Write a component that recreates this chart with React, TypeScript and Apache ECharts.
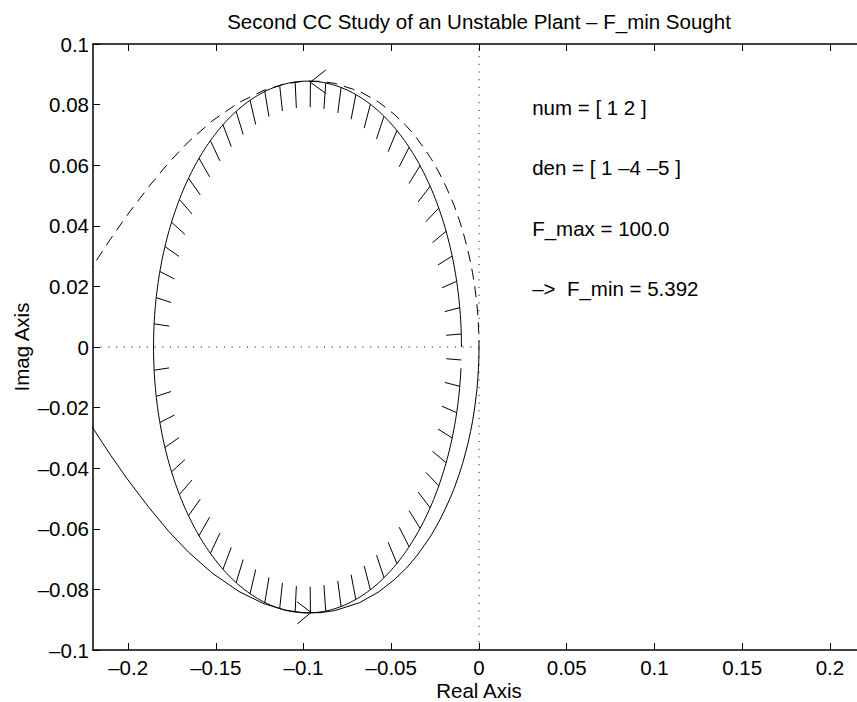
import React, { useEffect, useRef } from "react";
import * as echarts from "echarts";

const FONT = '"Liberation Sans", Arial, Helvetica, sans-serif';

// ---------- texts ----------
const chartTitle = "Second CC Study of an Unstable Plant – F_min Sought";
const xAxisName = "Real Axis";
const yAxisName = "Imag Axis";

// ---------- axes ----------
const xRange = [-0.22, 0.22];
const yRange = [-0.1, 0.1];
const xTickValues = [-0.2, -0.15, -0.1, -0.05, 0, 0.05, 0.1, 0.15, 0.2];
const xTickLabels = ["–0.2", "–0.15", "–0.1", "–0.05", "0", "0.05", "0.1", "0.15", "0.2"];
const yTickValues = [-0.1, -0.08, -0.06, -0.04, -0.02, 0, 0.02, 0.04, 0.06, 0.08, 0.1];
const yTickLabels = ["–0.1", "–0.08", "–0.06", "–0.04", "–0.02", "0", "0.02", "0.04", "0.06", "0.08", "0.1"];

// ---------- Nyquist curve, positive frequencies (solid) ----------
const nyquistPositive: [number, number][] = [
  [-0.2292, -0.0186], [-0.224, -0.0232], [-0.2191, -0.0276], [-0.2143, -0.0319],
  [-0.2097, -0.0359], [-0.2008, -0.0433], [-0.1882, -0.0529], [-0.1766, -0.061],
  [-0.1656, -0.0677], [-0.1521, -0.0746], [-0.1368, -0.0807], [-0.1231, -0.0846],
  [-0.1109, -0.0868], [-0.1001, -0.0877], [-0.0906, -0.0877], [-0.0822, -0.087],
  [-0.0681, -0.0844], [-0.0571, -0.0808], [-0.0483, -0.0768], [-0.0413, -0.0729],
  [-0.0357, -0.0691], [-0.0311, -0.0654], [-0.0272, -0.0621], [-0.0227, -0.0575],
  [-0.0192, -0.0534], [-0.0164, -0.0498], [-0.0141, -0.0466], [-0.0113, -0.042],
  [-0.0092, -0.0382], [-0.0065, -0.0323], [-0.0048, -0.0279], [-0.0037, -0.0246],
  [-0.0024, -0.0198], [-0.0012, -0.0142], [-0.0006, -0.01], [-0.0003, -0.0067],
  [-0.00015, -0.005], [-0.00007, -0.0033], [-0.00002, -0.002], [0, -0.001], [0, 0],
];

// ---------- Nyquist curve, negative frequencies (dashed) ----------
const nyquistNegative: [number, number][] = [
  [-0.2292, 0.0186], [-0.224, 0.0232], [-0.2191, 0.0276], [-0.2143, 0.0319],
  [-0.2097, 0.0359], [-0.2008, 0.0433], [-0.1882, 0.0529], [-0.1766, 0.061],
  [-0.1656, 0.0677], [-0.1521, 0.0746], [-0.1368, 0.0807], [-0.1231, 0.0846],
  [-0.1109, 0.0868], [-0.1001, 0.0877], [-0.0906, 0.0877], [-0.0822, 0.087],
  [-0.0681, 0.0844], [-0.0571, 0.0808], [-0.0483, 0.0768], [-0.0413, 0.0729],
  [-0.0357, 0.0691], [-0.0311, 0.0654], [-0.0272, 0.0621], [-0.0227, 0.0575],
  [-0.0192, 0.0534], [-0.0164, 0.0498], [-0.0141, 0.0466], [-0.0113, 0.042],
  [-0.0092, 0.0382], [-0.0065, 0.0323], [-0.0048, 0.0279], [-0.0037, 0.0246],
  [-0.0024, 0.0198], [-0.0012, 0.0142], [-0.0006, 0.01], [-0.0003, 0.0067],
  [-0.00015, 0.005], [-0.00007, 0.0033], [-0.00002, 0.002], [0, 0.001], [0, 0],
];

// ---------- circle-criterion disk: real-axis intercepts -1/F_min, -1/F_max ----------
const diskIntercepts = [-0.1855, -0.01];
const diskArcEndDeg = 355.4;
const hatchAnglesDeg = [
  2.8, 8.5, 14.3, 20.0, 25.8, 31.5, 37.2, 43.0, 48.7, 54.5, 60.2, 65.9, 71.7, 77.4, 83.2, 88.9,
  94.6, 100.4, 106.1, 111.9, 117.6, 123.3, 129.1, 134.8, 140.6, 146.3, 152.0, 157.8, 163.5, 169.3, 175.0,
  185.0, 190.7, 196.5, 202.2, 208.0, 213.7, 219.4, 225.2, 230.9, 236.7, 242.4, 248.1, 253.9, 259.6, 265.4,
  271.1, 276.8, 282.6, 288.3, 294.1, 299.8, 305.5, 311.3, 317.0, 322.8, 328.5, 334.2, 340.0, 345.7, 351.5, 357.2,
];
const hatchLength = 0.0086;

// ---------- direction arrows ----------
const arrowUpper: [number, number][] = [[-0.0873, 0.0914], [-0.0962, 0.0874], [-0.0873, 0.0837]];
const arrowLower: [number, number][] = [[-0.1037, -0.0841], [-0.0957, -0.0876], [-0.1036, -0.0914]];

// ---------- zero lines ----------
const zeroLineH: [number, number][] = [[-0.22, 0], [0, 0]];
const zeroLineV: [number, number][] = [[0, -0.1], [0, 0.1]];

// ---------- annotations ----------
const annotationTexts = ["num = [ 1 2 ]", "den = [ 1 –4 –5 ]", "F_max = 100.0", "–>  F_min = 5.392"];
const annotationX = 0.03;
const annotationY = [0.08, 0.06, 0.04, 0.02];

// ---------- layout ----------
const GRID = { left: 93, top: 44, width: 772, height: 606 };
const FS = 20.5;

function buildDisk() {
  const cx = (diskIntercepts[0] + diskIntercepts[1]) / 2;
  const r = (diskIntercepts[1] - diskIntercepts[0]) / 2;
  const pts: [number, number][] = [];
  for (let d = 0; d < diskArcEndDeg; d += 1) {
    const t = (d * Math.PI) / 180;
    pts.push([cx + r * Math.cos(t), r * Math.sin(t)]);
  }
  const te = (diskArcEndDeg * Math.PI) / 180;
  pts.push([cx + r * Math.cos(te), r * Math.sin(te)]);
  const hatches = hatchAnglesDeg.map((deg) => {
    const t = (deg * Math.PI) / 180;
    return [
      cx + r * Math.cos(t),
      r * Math.sin(t),
      cx + (r - hatchLength) * Math.cos(t),
      (r - hatchLength) * Math.sin(t),
    ];
  });
  return { pts, hatches };
}

function fmt(values: number[], labels: string[]) {
  return (v: number) => {
    const i = values.findIndex((t) => Math.abs(t - v) < 1e-9);
    return i >= 0 ? labels[i] : "";
  };
}

const lineBase = {
  type: "line",
  showSymbol: false,
  symbol: "none",
  silent: true,
  animation: false,
};

export default function App() {
  const ref = useRef<HTMLDivElement>(null);
  useEffect(() => {
    if (!ref.current) return;
    const chart = echarts.init(ref.current, undefined, { renderer: "svg" });
    const { pts, hatches } = buildDisk();
    const axisLineStyle = { color: "#000", width: 1.5 };
    const tickStyle = { color: "#000", width: 1 };
    const labelStyle = { color: "#000", fontSize: FS, fontFamily: FONT };

    const option: any = {
      animation: false,
      backgroundColor: "#fff",
      grid: { ...GRID, containLabel: false, outerBoundsMode: "none" },
      graphic: [
        {
          type: "text",
          x: GRID.left + GRID.width / 2,
          y: 21,
          silent: true,
          style: {
            text: chartTitle,
            fill: "#000",
            fontSize: FS,
            fontFamily: FONT,
            align: "center",
            verticalAlign: "middle",
          },
        },
      ],
      xAxis: [
        {
          type: "value",
          position: "bottom",
          min: xRange[0],
          max: xRange[1],
          name: xAxisName,
          nameLocation: "middle",
          nameGap: 29.5,
          nameMoveOverlap: false,
          nameTextStyle: { ...labelStyle },
          axisLine: { show: true, onZero: false, lineStyle: axisLineStyle },
          axisTick: { show: true, inside: true, length: 7, customValues: xTickValues, lineStyle: tickStyle },
          axisLabel: { show: true, margin: 6.5, customValues: xTickValues, formatter: fmt(xTickValues, xTickLabels), ...labelStyle },
          splitLine: { show: false },
        },
        {
          type: "value",
          position: "top",
          min: xRange[0],
          max: xRange[1],
          axisLine: { show: true, onZero: false, lineStyle: axisLineStyle },
          axisTick: { show: true, inside: true, length: 7, customValues: xTickValues, lineStyle: tickStyle },
          axisLabel: { show: false },
          splitLine: { show: false },
        },
      ],
      yAxis: [
        {
          type: "value",
          position: "left",
          min: yRange[0],
          max: yRange[1],
          name: yAxisName,
          nameLocation: "middle",
          nameGap: 61,
          nameMoveOverlap: false,
          nameTextStyle: { ...labelStyle },
          axisLine: { show: true, onZero: false, lineStyle: axisLineStyle },
          axisTick: { show: true, inside: true, length: 7, customValues: yTickValues, lineStyle: tickStyle },
          axisLabel: {
            show: true,
            margin: 4,
            customValues: yTickValues,
            formatter: fmt(yTickValues, yTickLabels),
            padding: [4, 0, 0, 0],
            ...labelStyle,
          },
          splitLine: { show: false },
        },
        {
          type: "value",
          position: "right",
          min: yRange[0],
          max: yRange[1],
          axisLine: { show: true, onZero: false, lineStyle: axisLineStyle },
          axisTick: { show: true, inside: true, length: 7, customValues: yTickValues, lineStyle: tickStyle },
          axisLabel: { show: false },
          splitLine: { show: false },
        },
      ],
      series: [
        {
          ...lineBase,
          name: "zero-h",
          data: zeroLineH,
          lineStyle: { color: "#000", width: 1, type: [1, 6.7] },
          z: 1,
        },
        {
          ...lineBase,
          name: "zero-v",
          data: zeroLineV,
          lineStyle: { color: "#000", width: 1, type: [1, 6.7] },
          z: 1,
        },
        {
          ...lineBase,
          name: "disk",
          data: pts,
          lineStyle: { color: "#000", width: 1 },
          z: 2,
        },
        {
          type: "custom",
          name: "hatch",
          silent: true,
          animation: false,
          data: hatches,
          encode: { x: [0, 2], y: [1, 3] },
          renderItem: (params: any, api: any) => {
            const p0 = api.coord([api.value(0), api.value(1)]);
            const p1 = api.coord([api.value(2), api.value(3)]);
            return {
              type: "line",
              shape: { x1: p0[0], y1: p0[1], x2: p1[0], y2: p1[1] },
              style: { stroke: "#000", lineWidth: 1 },
            };
          },
          z: 2,
        },
        {
          ...lineBase,
          name: "nyquist+",
          data: nyquistPositive,
          lineStyle: { color: "#000", width: 1 },
          z: 3,
        },
        {
          ...lineBase,
          name: "nyquist-",
          data: nyquistNegative,
          lineStyle: { color: "#000", width: 1, type: [11, 7] },
          z: 3,
        },
        {
          ...lineBase,
          name: "arrow-up",
          data: arrowUpper,
          lineStyle: { color: "#000", width: 1 },
          z: 4,
        },
        {
          ...lineBase,
          name: "arrow-down",
          data: arrowLower,
          lineStyle: { color: "#000", width: 1 },
          z: 4,
        },
        {
          type: "scatter",
          name: "annotations",
          silent: true,
          animation: false,
          symbolSize: 1,
          itemStyle: { color: "rgba(0,0,0,0)", opacity: 1 },
          data: annotationTexts.map((t, i) => ({ name: t, value: [annotationX, annotationY[i]] })),
          label: {
            show: true,
            position: "right",
            distance: 0,
            offset: [0, 2.5],
            formatter: (p: any) => p.name,
            color: "#000",
            opacity: 1,
            fontSize: FS,
            fontFamily: FONT,
          },
          z: 5,
        },
      ],
    };
    chart.setOption(option);
    return () => chart.dispose();
  }, []);
  return (
    <div
      ref={ref}
      style={{ position: "absolute", left: 0, top: 0, width: 857, height: 702, background: "#fff" }}
    />
  );
}
